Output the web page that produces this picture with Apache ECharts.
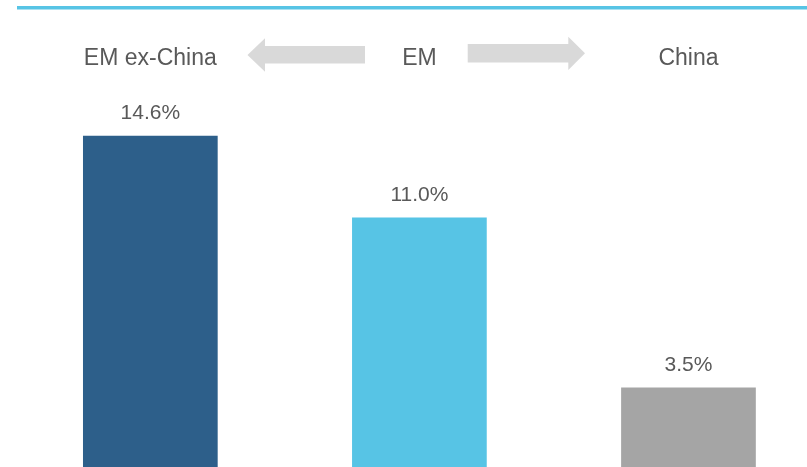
<!DOCTYPE html>
<html>
<head>
<meta charset="utf-8">
<script src="https://cdn.jsdelivr.net/npm/echarts@6/dist/echarts.min.js"></script>
<style>html,body{margin:0;padding:0;background:#fff;overflow:hidden;}#c{width:823px;height:467px;}</style>
</head>
<body>
<div id="c"></div>
<script>
var categories = ['EM ex-China', 'EM', 'China'];
var values = [14.6, 11.0, 3.5];
var barColors = ['#2D5F8A', '#57C4E5', '#A5A5A5'];

var chart = echarts.init(document.getElementById('c'), null, {renderer: 'canvas'});
var font = '"Liberation Sans", Arial, sans-serif';
chart.setOption({
  animation: false,
  backgroundColor: '#fff',
  grid: {left: 15.8, right: 0, top: 13.3, bottom: -1.7, containLabel: false},
  xAxis: {
    type: 'category',
    data: categories,
    position: 'top',
    axisLine: {show: false},
    axisTick: {show: false},
    axisLabel: {inside: true, margin: 45, verticalAlign: 'middle', color: '#595959', fontSize: 23, fontFamily: font}
  },
  yAxis: {type: 'value', min: 0, max: 20, show: false, splitLine: {show: false}},
  series: [{
    type: 'bar',
    data: values.map(function (v, i) { return {value: v, itemStyle: {color: barColors[i]}}; }),
    barWidth: 134.7,
    label: {
      show: true, position: 'top', distance: 12,
      formatter: function (p) { return p.value.toFixed(1) + '%'; },
      color: '#595959', fontSize: 21, fontFamily: font
    }
  }],
  graphic: [
    {type: 'rect', shape: {x: 17, y: 6, width: 810, height: 3.5}, style: {fill: '#57C4E5'}, silent: true},
    {type: 'polygon', shape: {points: [[247.5, 55], [265, 38.3], [265, 46], [365, 46], [365, 63.5], [265, 63.5], [265, 71.7]]}, style: {fill: '#D9D9D9'}, silent: true},
    {type: 'polygon', shape: {points: [[585, 53.3], [568.3, 36.7], [568.3, 44], [467.7, 44], [467.7, 62.5], [568.3, 62.5], [568.3, 70]]}, style: {fill: '#D9D9D9'}, silent: true}
  ]
});
</script>
</body>
</html>
